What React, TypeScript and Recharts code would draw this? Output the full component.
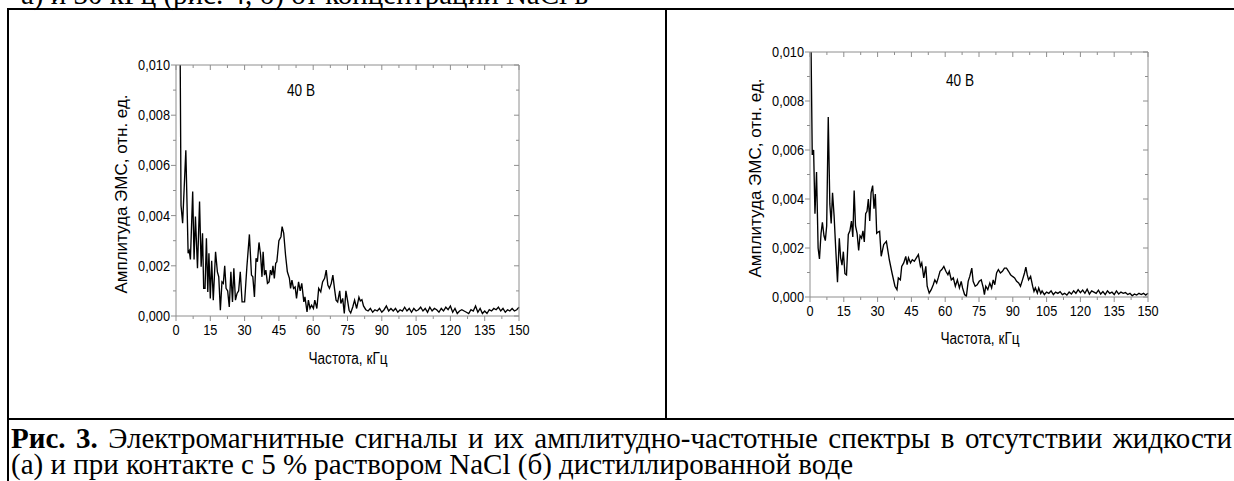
import React from 'react';
import { LineChart, Line, XAxis, YAxis } from 'recharts';

// ---------- Data (amplitude in units of 0.001 rel. units) ----------
const FREQ_A = [
  1.6, 2.2, 2.9, 4.3, 5.3, 5.8, 6.3, 7.3, 7.9, 8.5, 9.4, 10.3, 11.0, 11.6, 12.1, 12.7, 13.3, 13.9, 14.4, 15.0,
  15.6, 16.3, 17.3, 18.1, 18.7, 19.4, 20.1, 20.7, 21.3, 21.9, 22.6, 23.3, 24.0, 24.7, 25.3, 26.0, 26.7, 27.4, 28.1, 28.9,
  30.0, 31.0, 32.1, 33.0, 33.6, 34.3, 35.0, 35.6, 36.3, 37.0, 37.6, 38.1, 38.7, 39.3, 40.0, 40.7, 41.3, 41.9, 42.4, 43.0,
  43.6, 44.1, 45.0, 45.9, 46.4, 47.1, 47.9, 48.7, 49.6, 50.1, 50.7, 51.4, 52.1, 52.7, 53.6, 54.3, 55.0, 55.9, 56.4, 57.3,
  57.9, 58.6, 59.3, 60.1, 60.7, 61.6, 62.4, 63.3, 64.1, 65.0, 65.7, 66.4, 67.1, 67.9, 68.6, 69.3, 70.0, 70.7, 71.6, 72.1,
  72.9, 73.6, 74.3, 75.0, 75.7, 76.4, 77.3, 78.1, 79.0, 80.0, 80.6, 81.3, 82.0,
  83, 84, 85, 86, 87, 88, 89, 90, 91, 92, 93, 94, 95, 96, 97, 98, 99, 100, 101, 102, 103, 104, 105, 106, 107, 108, 109, 110,
  111, 112, 113, 114, 115, 116, 117, 118, 119, 120, 121, 122, 123, 124, 125, 126, 127, 128, 129, 130, 131, 132, 133, 134,
  135, 136, 137, 138, 139, 140, 141, 142, 143, 144, 145, 146, 147, 148, 149, 150,
];
const AMP_A = [
  14, 4.4, 3.7, 6.6, 2.5, 2.6, 2.25, 4.96, 2.25, 3.96, 1.9, 4.56, 1.96, 3.3, 1.1, 1.1, 3.1, 0.96, 2.5, 0.7,
  2.2, 0.63, 2.56, 1.76, 1.56, 0.23, 1.36, 1.3, 2.0, 1.1, 1.0, 0.36, 1.76, 0.56, 1.9, 0.63, 0.9, 1.0, 1.76, 0.56,
  0.56, 1.96, 3.25, 1.63, 1.56, 0.76, 2.3, 2.16, 2.93, 2.43, 1.56, 2.56, 1.63, 1.83, 1.3, 1.36, 1.83, 1.63, 2.0, 1.5,
  2.1, 2.16, 3.0, 3.16, 3.56, 3.3, 2.43, 1.76, 1.5, 1.1, 1.43, 1.1, 1.16, 0.7, 1.36, 1.0, 1.3, 0.56, 0.76, 0.16,
  0.63, 0.3, 0.43, 0.3, 0.63, 0.3, 1.1, 0.96, 1.36, 1.5, 1.83, 1.23, 1.1, 1.3, 1.63, 1.1, 0.63, 0.56, 1.0, 0.5,
  0.7, 0.1, 1.0, 0.63, 0.23, 0.12, 0.36, 0.63, 0.3, 0.75, 0.6, 0.65, 0.4,
  0.25, 0.2, 0.3, 0.15, 0.25, 0.2, 0.3, 0.15, 0.25, 0.4, 0.2, 0.3, 0.2, 0.3, 0.15, 0.25, 0.2, 0.35, 0.2, 0.3, 0.15, 0.3, 0.2, 0.25, 0.35, 0.2, 0.3, 0.15,
  0.35, 0.2, 0.3, 0.25, 0.15, 0.3, 0.2, 0.35, 0.25, 0.4, 0.15, 0.3, 0.1, 0.2, 0.25, 0.2, 0.15, 0.1, 0.25, 0.2, 0.4, 0.15, 0.3, 0.1,
  0.2, 0.1, 0.25, 0.2, 0.3, 0.25, 0.35, 0.2, 0.3, 0.15, 0.25, 0.2, 0.3, 0.2, 0.25, 0.35,
];

const FREQ_B = [
  0.0, 1.0, 1.6, 2.2, 2.9, 3.6, 4.2, 4.9, 5.5, 6.2, 6.8, 7.4, 8.1, 8.8, 9.4, 10.0, 10.7, 11.4, 12.2, 13.0,
  13.6, 14.2, 14.8, 15.5, 16.2, 17.0, 17.7, 18.4, 19.0, 19.6, 20.2, 20.9, 21.6, 22.2, 22.9, 23.5, 24.1, 24.7, 25.3, 25.9,
  26.5, 27.1, 27.8, 28.4, 29.0, 29.6, 30.2, 30.9, 31.6, 32.7, 33.9, 35.2, 36.4, 37.7, 38.6, 39.2, 40.1, 40.7, 41.6, 42.5,
  43.1, 43.7, 44.6, 45.4, 46.3, 47.2, 48.1, 49.0, 49.6, 50.5, 51.4, 52.0, 52.9, 53.8, 54.7, 55.4, 56.2, 56.9, 57.7, 58.5,
  59.4, 60.3, 61.2, 61.8, 62.7, 63.6, 64.5, 65.4, 66.3, 67.1, 67.7, 68.6, 69.4, 70.2, 70.9, 71.8, 72.4, 73.3, 74.2, 75.1,
  76.0, 76.9, 77.4, 78.0, 78.9, 79.8, 80.6, 81.3, 82.0, 82.8, 83.6, 84.5, 85.4, 86.3, 87.2, 88.1, 89.0, 89.9, 90.8, 91.7,
  92.6, 93.4, 94.3, 95.2, 95.8, 96.4, 97.0, 97.9, 98.8, 99.4, 100.0, 100.9, 101.5, 102.4,
  103, 104, 105, 106, 107, 108, 109, 110, 111, 112, 113, 114, 115, 116, 117, 118, 119, 120, 121, 122, 123, 124, 125, 126,
  127, 128, 129, 130, 131, 132, 133, 134, 135, 136, 137, 138, 139, 140, 141, 142, 143, 144, 145, 146, 147, 148, 149, 150,
];
const AMP_B = [
  14, 5.8, 6.0, 3.4, 5.1, 2.0, 1.55, 2.6, 3.05, 2.5, 2.3, 2.9, 7.35, 3.8, 3.0, 4.25, 3.3, 2.0, 0.6, 2.4,
  1.6, 1.3, 1.85, 0.95, 0.9, 2.55, 2.7, 3.1, 2.45, 4.35, 2.9, 2.6, 1.9, 2.5, 2.4, 2.7, 2.25, 3.4, 3.5, 4.0,
  3.1, 4.25, 4.55, 3.6, 4.2, 2.6, 2.65, 2.68, 1.66, 2.14, 2.27, 1.52, 0.98, 0.44, 0.3, 0.78, 0.7, 1.25, 1.39, 1.66,
  1.32, 1.6, 1.39, 1.52, 1.46, 1.6, 1.73, 1.25, 1.39, 0.78, 1.25, 0.44, 0.16, 0.3, 0.5, 0.7, 0.57, 0.78, 1.05, 1.12,
  1.25, 1.05, 0.91, 1.05, 0.7, 0.78, 0.44, 0.7, 0.37, 0.64, 0.37, 0.1, 0.03, 0.64, 0.84, 1.18, 0.64, 0.44, 0.5, 0.64,
  0.7, 0.37, 0.1, 0.44, 0.3, 0.57, 0.37, 0.7, 0.5, 0.98, 1.12, 0.98, 1.05, 1.18, 1.18, 1.05, 0.91, 0.84, 0.78, 0.64,
  0.57, 0.44, 0.7, 0.98, 1.22, 0.91, 0.7, 0.84, 0.44, 0.23, 0.37, 0.16, 0.37, 0.14,
  0.25, 0.1, 0.2, 0.15, 0.25, 0.1, 0.2, 0.15, 0.22, 0.1, 0.15, 0.08, 0.2, 0.12, 0.25, 0.15, 0.3, 0.18, 0.28, 0.15, 0.32, 0.12, 0.25, 0.2,
  0.15, 0.28, 0.12, 0.22, 0.1, 0.25, 0.15, 0.2, 0.1, 0.25, 0.12, 0.2, 0.15, 0.18, 0.1, 0.15, 0.05, 0.12, 0.08, 0.15, 0.1, 0.15, 0.08, 0.15,
];

const X_TICKS = [0, 15, 30, 45, 60, 75, 90, 105, 120, 135, 150];
const Y_TICKS = [0, 0.002, 0.004, 0.006, 0.008, 0.01];

const TOP_TEXT = 'а) и 30 кГц (рис. 4, б) от концентрации NaCl в';
const CAPTION_BOLD = 'Рис. 3.';
const CAPTION_1 = ' Электромагнитные сигналы и их амплитудно-частотные спектры в отсутствии жидкости';
const CAPTION_2 = '(а) и при контакте с 5 % раствором NaCl (б) дистиллированной воде';
const Y_TITLE = 'Амплитуда ЭМС, отн. ед.';
const X_TITLE = 'Частота, кГц';
const PANEL_LABEL = '40 В';

// ---------- helpers ----------
const withMinor = (arr: number[]) => {
  const out: number[] = [];
  arr.forEach((v, i) => {
    out.push(v);
    if (i < arr.length - 1) out.push((v + arr[i + 1]) / 2);
  });
  return out;
};
const X_ALL = withMinor(X_TICKS);
const Y_ALL = withMinor(Y_TICKS);
const isMajor = (v: number, list: number[]) => list.some((t) => Math.abs(t - v) < 1e-9);

const GRAY = '#8e8e8e';
const SANS = "'Liberation Sans', Arial, sans-serif";
const SERIF = "'Liberation Serif', 'Times New Roman', serif";
const CAP_SIZE = 29;

const fmtY = (v: number) => v.toFixed(3).replace('.', ',');

const BottomTick = (p: any) => {
  const { x, y, payload } = p;
  const v = payload.value;
  const major = isMajor(v, X_TICKS);
  return (
    <g>
      <line x1={x} x2={x} y1={y} y2={y + (major ? 5 : 3)} stroke={GRAY} strokeWidth={1} />
      {major && (
        <text transform={`translate(${x},${y + 19}) scale(0.85,1)`} textAnchor="middle" fontSize={15} fontFamily={SANS} fill="#000">
          {v}
        </text>
      )}
    </g>
  );
};
const TopTick = (p: any) => {
  const { x, y, payload } = p;
  const major = isMajor(payload.value, X_TICKS);
  return <line x1={x} x2={x} y1={y} y2={y + (major ? 5 : 3)} stroke={GRAY} strokeWidth={1} />;
};
const LeftTick = (p: any) => {
  const { x, y, payload } = p;
  const v = payload.value;
  const major = isMajor(v, Y_TICKS);
  return (
    <g>
      <line x1={x - (major ? 5 : 3)} x2={x} y1={y} y2={y} stroke={GRAY} strokeWidth={1} />
      {major && (
        <text transform={`translate(${x - 6},${y + 5}) scale(0.85,1)`} textAnchor="end" fontSize={15} fontFamily={SANS} fill="#000">
          {fmtY(v)}
        </text>
      )}
    </g>
  );
};
const RightTick = (p: any) => {
  const { x, y, payload } = p;
  const major = isMajor(payload.value, Y_TICKS);
  return <line x1={x - (major ? 5 : 3)} x2={x} y1={y} y2={y} stroke={GRAY} strokeWidth={1} />;
};

type PanelProps = {
  freq: number[];
  amp: number[];
  left: number;
  width: number;
  height: number;
  plot: { top: number; right: number; bottom: number; left: number };
  yTitle: { x: number; y: number };
  xTitle: { x: number; y: number };
  label: { x: number; y: number };
};

const Panel = ({ freq, amp, left, width, height, plot, yTitle, xTitle, label }: PanelProps) => {
  const data = freq.map((f, i) => ({ f, a: amp[i] / 1000 }));
  // each axis takes 1px of room outside the plot area
  const margin = { top: plot.top - 1, right: plot.right - 1, bottom: plot.bottom - 1, left: plot.left - 1 };
  const textStyle = {
    position: 'absolute' as const,
    whiteSpace: 'nowrap' as const,
    fontFamily: SANS,
    lineHeight: '16px',
    color: '#000',
  };
  return (
    <div style={{ position: 'absolute', left, top: 0, width, height }}>
      <LineChart width={width} height={height} data={data} margin={margin}>
        <XAxis
          xAxisId="b"
          dataKey="f"
          type="number"
          domain={[0, 150]}
          ticks={X_ALL}
          interval={0}
          height={1}
          tickSize={0}
          tickMargin={0}
          tickLine={false}
          axisLine={{ stroke: GRAY }}
          tick={BottomTick}
        />
        <XAxis
          xAxisId="t"
          orientation="top"
          dataKey="f"
          type="number"
          domain={[0, 150]}
          ticks={X_ALL}
          interval={0}
          height={1}
          tickSize={0}
          tickMargin={0}
          tickLine={false}
          axisLine={{ stroke: GRAY }}
          tick={TopTick}
        />
        <YAxis
          yAxisId="l"
          type="number"
          domain={[0, 0.01]}
          allowDataOverflow
          ticks={Y_ALL}
          interval={0}
          width={1}
          tickSize={0}
          tickMargin={0}
          tickLine={false}
          axisLine={{ stroke: GRAY }}
          tick={LeftTick}
        />
        <YAxis
          yAxisId="r"
          orientation="right"
          type="number"
          domain={[0, 0.01]}
          allowDataOverflow
          ticks={Y_ALL}
          interval={0}
          width={1}
          tickSize={0}
          tickMargin={0}
          tickLine={false}
          axisLine={{ stroke: GRAY }}
          tick={RightTick}
        />
        <Line
          xAxisId="b"
          yAxisId="l"
          type="linear"
          dataKey="a"
          stroke="#000"
          strokeWidth={1.35}
          dot={false}
          activeDot={false}
          isAnimationActive={false}
        />
        <Line
          xAxisId="t"
          yAxisId="r"
          type="linear"
          dataKey="a"
          stroke="none"
          dot={false}
          activeDot={false}
          isAnimationActive={false}
        />
      </LineChart>
      <div style={{ ...textStyle, left: yTitle.x, top: yTitle.y, fontSize: 17, transform: 'translate(-50%,-50%) rotate(-90deg)' }}>
        {Y_TITLE}
      </div>
      <div style={{ ...textStyle, left: xTitle.x, top: xTitle.y, fontSize: 16, transform: 'translate(-50%,-50%) scale(0.85,1)' }}>
        {X_TITLE}
      </div>
      <div style={{ ...textStyle, left: label.x, top: label.y, fontSize: 16, transform: 'translate(-50%,-50%) scale(0.85,1)' }}>
        {PANEL_LABEL}
      </div>
    </div>
  );
};

export default function App() {
  return (
    <div style={{ position: 'absolute', left: 0, top: 0, width: 1234, height: 481, overflow: 'hidden', background: '#fff' }}>
      <div
        style={{
          position: 'absolute',
          left: 21,
          top: -20,
          fontFamily: SERIF,
          fontSize: CAP_SIZE,
          lineHeight: `${CAP_SIZE}px`,
          whiteSpace: 'nowrap',
          color: '#000',
        }}
      >
        {TOP_TEXT}
      </div>
      {/* table borders */}
      <div style={{ position: 'absolute', left: 7, top: 8, width: 1227, height: 2, background: '#000' }} />
      <div style={{ position: 'absolute', left: 7, top: 8, width: 2, height: 473, background: '#000' }} />
      <div style={{ position: 'absolute', left: 665, top: 8, width: 2, height: 411, background: '#000' }} />
      <div style={{ position: 'absolute', left: 7, top: 418, width: 1227, height: 2, background: '#000' }} />

      <Panel
        freq={FREQ_A}
        amp={AMP_A}
        left={0}
        width={666}
        height={418}
        plot={{ top: 65, right: 147, bottom: 102, left: 176 }}
        yTitle={{ x: 122, y: 194 }}
        xTitle={{ x: 348, y: 359 }}
        label={{ x: 301, y: 91 }}
      />
      <Panel
        freq={FREQ_B}
        amp={AMP_B}
        left={666}
        width={568}
        height={418}
        plot={{ top: 52, right: 86, bottom: 121, left: 144 }}
        yTitle={{ x: 90, y: 178 }}
        xTitle={{ x: 314, y: 339 }}
        label={{ x: 294, y: 81 }}
      />

      <div
        style={{
          position: 'absolute',
          left: 11,
          top: 425,
          width: 1221,
          height: 26,
          fontFamily: SERIF,
          fontSize: CAP_SIZE,
          lineHeight: '26px',
          textAlign: 'justify',
          textAlignLast: 'justify',
          whiteSpace: 'nowrap',
          color: '#000',
        }}
      >
        <b>{CAPTION_BOLD}</b>
        {CAPTION_1}
      </div>
      <div
        style={{
          position: 'absolute',
          left: 11,
          top: 451,
          height: 26,
          fontFamily: SERIF,
          fontSize: CAP_SIZE,
          lineHeight: '26px',
          whiteSpace: 'nowrap',
          color: '#000',
        }}
      >
        {CAPTION_2}
      </div>
    </div>
  );
}
